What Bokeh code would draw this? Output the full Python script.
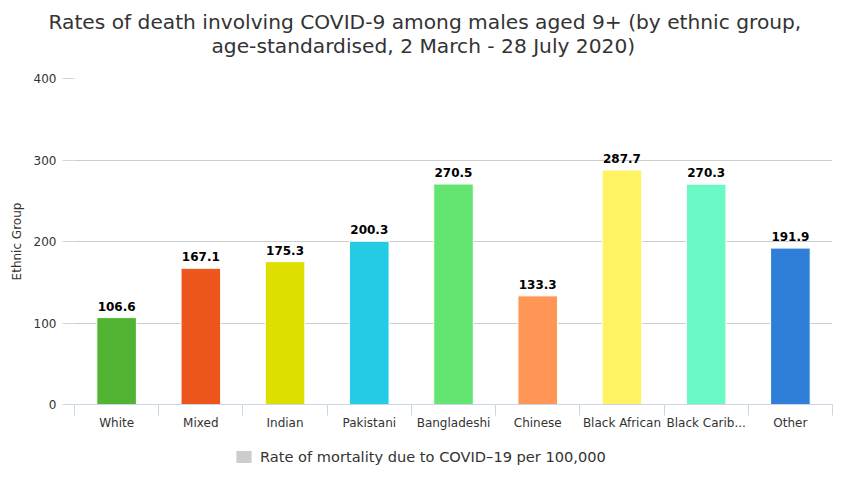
from bokeh.plotting import figure
from bokeh.models import (Range1d, FixedTicker, ColumnDataSource, Legend, LegendItem,
                          Grid, LabelSet, Title)
from bokeh.layouts import column
from bokeh.core.properties import value
from bokeh.embed import file_html
from bokeh.resources import INLINE

categories = ["White", "Mixed", "Indian", "Pakistani", "Bangladeshi", "Chinese",
              "Black African", "Black Caribbean", "Other"]
tick_labels = ["White", "Mixed", "Indian", "Pakistani", "Bangladeshi", "Chinese",
               "Black African", "Black Carib...", "Other"]
rates = [106.6, 167.1, 175.3, 200.3, 270.5, 133.3, 287.7, 270.3, 191.9]
colors = ["#50B432", "#ED561B", "#DDDF00", "#24CBE5", "#64E572", "#FF9655",
          "#FFF263", "#6AF9C4", "#2f7ed8"]
y_ticks = [0, 100, 200, 300, 400]
series_name = "Rate of mortality due to COVID\u201319 per 100,000"
title_lines = ["Rates of death involving COVID-9 among males aged 9+ (by ethnic group,",
               "age-standardised, 2 March - 28 July 2020)"]

FONT = "DejaVu Sans"
xs = [i + 0.5 for i in range(len(categories))]
src = ColumnDataSource(dict(x=xs, top=rates, color=colors,
                            label=[f"{v:.1f}" for v in rates]))

p = figure(width=833, height=435, output_backend="svg", toolbar_location=None,
           x_range=Range1d(0, len(categories)), y_range=Range1d(0, 400),
           min_border_left=74, min_border_right=1, min_border_top=78, min_border_bottom=31)
p.outline_line_color = None
p.background_fill_color = "white"
p.title = None

title_offsets = [-26, 137]
title_standoffs = [-45, 41]
for line, off, so in reversed(list(zip(title_lines, title_offsets, title_standoffs))):
    t = Title(text=line, align="left", text_font=FONT, text_font_size="20.2px",
              text_font_style="normal", text_color="#333333", offset=off, standoff=so)
    p.add_layout(t, "above")

p.vbar(x="x", top="top", width=0.47, fill_color="color", line_color="white",
       line_width=1, source=src)

labels = LabelSet(x="x", y="top", text="label", source=src, text_align="center",
                  text_baseline="alphabetic", y_offset=7,
                  text_font=value(FONT), text_font_size=value("12px"),
                  text_font_style="bold", text_color="#000000")
p.add_layout(labels)

# axes
xa = p.xaxis[0]
xa.ticker = FixedTicker(ticks=xs, minor_ticks=list(range(len(categories) + 1)))
xa.major_label_overrides = {x: t for x, t in zip(xs, tick_labels)}
xa.major_tick_line_color = None
xa.major_tick_out = 0
xa.major_tick_in = 0
xa.minor_tick_line_color = "#ccd6eb"
xa.minor_tick_out = 11
xa.minor_tick_in = 0
xa.axis_line_color = "#ccd6eb"
xa.major_label_text_font = FONT
xa.major_label_text_font_size = "12px"
xa.major_label_text_color = "#333333"
xa.major_label_standoff = 0

ya = p.yaxis[0]
ya.ticker = FixedTicker(ticks=y_ticks)
ya.axis_line_color = None
ya.major_tick_line_color = "#ccd6eb"
ya.major_tick_out = 12
ya.major_tick_in = 0
ya.minor_tick_line_color = None
ya.major_label_standoff = 6
ya.major_label_text_font = FONT
ya.major_label_text_font_size = "12px"
ya.major_label_text_color = "#333333"
ya.axis_label = "Ethnic Group"
ya.axis_label_text_font = FONT
ya.axis_label_text_font_size = "12px"
ya.axis_label_text_font_style = "normal"
ya.axis_label_text_color = "#333333"
ya.axis_label_standoff = 7

p.xgrid.grid_line_color = None
p.ygrid.ticker = FixedTicker(ticks=[100, 200, 300])
p.ygrid.grid_line_color = "#cccccc"
top_grid = Grid(dimension=1, ticker=FixedTicker(ticks=[400]), grid_line_color="#e6e6e6")
p.add_layout(top_grid)

# legend strip below the chart (series renderer hidden, only its legend entry shows)
lp = figure(width=833, height=30, output_backend="svg", toolbar_location=None,
            x_range=Range1d(0, len(categories)), y_range=Range1d(0, 400),
            x_axis_type=None, y_axis_type=None,
            min_border_left=0, min_border_right=0, min_border_top=0, min_border_bottom=0)
lp.outline_line_color = None
lp.grid.visible = False
series_r = lp.vbar(x="x", top="top", width=0.47, fill_color="#cccccc", line_color=None,
                   source=src, visible=False)
legend = Legend(items=[LegendItem(label=series_name, renderers=[series_r])],
                orientation="horizontal", location=(160, 0),
                border_line_color=None, background_fill_alpha=0,
                inactive_fill_alpha=0,
                glyph_width=19, glyph_height=15, label_standoff=7,
                label_text_font=FONT, label_text_font_size="14.6px",
                label_text_color="#333333", padding=2, margin=0)
lp.add_layout(legend, "center")

layout = column(p, lp, spacing=0)
open("out.html", "w").write(file_html(layout, INLINE))
